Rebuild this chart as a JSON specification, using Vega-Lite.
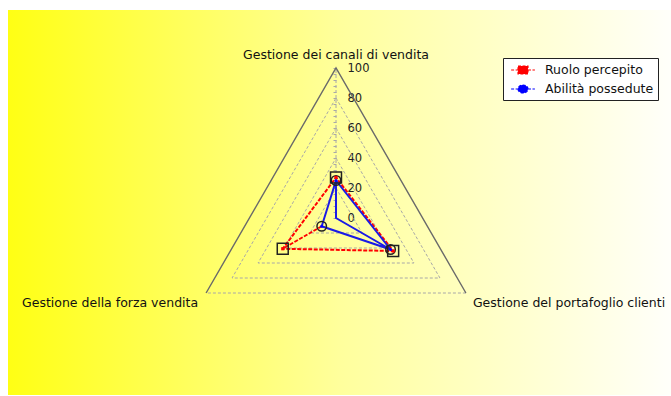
{
  "$schema": "https://vega.github.io/schema/vega-lite/v6.json",
  "width": 663,
  "height": 385,
  "padding": {"left": 8, "top": 10, "right": 0, "bottom": 1},
  "autosize": {"type": "none"},
  "background": "white",
  "config": {
    "view": {
      "stroke": null,
      "fill": {"gradient": "linear", "x1": 0, "y1": 0, "x2": 1, "y2": 0,
        "stops": [{"offset": 0, "color": "#ffff14"}, {"offset": 0.5, "color": "#ffff9c"}, {"offset": 1, "color": "#fffffa"}]}
    },
    "font": "DejaVu Sans",
    "legend": {
      "orient": "none", "legendX": 495, "legendY": 48, "title": null,
      "fillColor": "white", "strokeColor": "#222222", "padding": 4, "symbolOffset": 8, "rowPadding": 4,
      "labelFont": "DejaVu Sans", "labelFontSize": 12.5, "labelColor": "#111111", "labelOffset": 14,
      "symbolSize": 196, "symbolStrokeWidth": 1.2, "symbolOpacity": 1, "symbolDash": [3, 1.5]
    }
  },
  "datasets": {
    "grid": [
      {"g": "L20", "seq": 0, "k": 0, "value": 20, "style": "dash"},
      {"g": "L20", "seq": 1, "k": 1, "value": 20, "style": "dash"},
      {"g": "L20", "seq": 2, "k": 2, "value": 20, "style": "dash"},
      {"g": "L20", "seq": 3, "k": 0, "value": 20, "style": "dash"},
      {"g": "L40", "seq": 0, "k": 0, "value": 40, "style": "dash"},
      {"g": "L40", "seq": 1, "k": 1, "value": 40, "style": "dash"},
      {"g": "L40", "seq": 2, "k": 2, "value": 40, "style": "dash"},
      {"g": "L40", "seq": 3, "k": 0, "value": 40, "style": "dash"},
      {"g": "L60", "seq": 0, "k": 0, "value": 60, "style": "dash"},
      {"g": "L60", "seq": 1, "k": 1, "value": 60, "style": "dash"},
      {"g": "L60", "seq": 2, "k": 2, "value": 60, "style": "dash"},
      {"g": "L60", "seq": 3, "k": 0, "value": 60, "style": "dash"},
      {"g": "L80", "seq": 0, "k": 0, "value": 80, "style": "dash"},
      {"g": "L80", "seq": 1, "k": 1, "value": 80, "style": "dash"},
      {"g": "L80", "seq": 2, "k": 2, "value": 80, "style": "dash"},
      {"g": "L80", "seq": 3, "k": 0, "value": 80, "style": "dash"},
      {"g": "bottom", "seq": 0, "k": 1, "value": 100, "style": "dash"},
      {"g": "bottom", "seq": 1, "k": 2, "value": 100, "style": "dash"},
      {"g": "axis", "seq": 0, "k": 0, "value": 0, "style": "dash"},
      {"g": "axis", "seq": 1, "k": 0, "value": 100, "style": "dash"},
      {"g": "sides", "seq": 0, "k": 2, "value": 100, "style": "solid"},
      {"g": "sides", "seq": 1, "k": 0, "value": 100, "style": "solid"},
      {"g": "sides", "seq": 2, "k": 1, "value": 100, "style": "solid"}
    ],
    "paths": [
      {"series": "Ruolo percepito", "seq": 0, "k": 2, "value": 11},
      {"series": "Ruolo percepito", "seq": 1, "k": 2, "value": 41},
      {"series": "Ruolo percepito", "seq": 2, "k": 0, "value": 27},
      {"series": "Ruolo percepito", "seq": 3, "k": 1, "value": 44},
      {"series": "Ruolo percepito", "seq": 4, "k": 2, "value": 41},
      {"series": "Abilità possedute", "seq": 0, "k": 1, "value": 42},
      {"series": "Abilità possedute", "seq": 1, "k": 2, "value": 11},
      {"series": "Abilità possedute", "seq": 2, "k": 0, "value": 25},
      {"series": "Abilità possedute", "seq": 3, "k": 0, "value": 0},
      {"series": "Abilità possedute", "seq": 4, "k": 1, "value": 42},
      {"series": "Abilità possedute", "seq": 5, "k": 0, "value": 25}
    ],
    "points": [
      {"series": "Ruolo percepito", "k": 0, "value": 27},
      {"series": "Ruolo percepito", "k": 1, "value": 44},
      {"series": "Ruolo percepito", "k": 2, "value": 41},
      {"series": "Abilità possedute", "k": 0, "value": 25},
      {"series": "Abilità possedute", "k": 1, "value": 42},
      {"series": "Abilità possedute", "k": 2, "value": 11}
    ],
    "axes": [
      {"axis": "Gestione dei canali di vendita", "k": 0, "value": 100},
      {"axis": "Gestione del portafoglio clienti", "k": 1, "value": 100},
      {"axis": "Gestione della forza vendita", "k": 2, "value": 100}
    ]
  },
  "encoding": {
    "x": {"field": "px", "type": "quantitative", "scale": {"domain": [-218.667, 223.333], "nice": false, "zero": false}, "axis": null},
    "y": {"field": "py", "type": "quantitative", "scale": {"domain": [-118, 138.667], "nice": false, "zero": false},
      "axis": {"orient": "right", "offset": -335, "title": null,
        "values": [0,4,8,12,16,20,24,28,32,36,40,44,48,52,56,60,64,68,72,76,80,84,88,92,96,100],
        "labelExpr": "datum.value % 20 === 0 ? datum.label : ''",
        "domain": false, "grid": false, "tickSize": -3, "tickColor": "#a8a8a8",
        "labelFont": "DejaVu Sans", "labelFontSize": 11.5, "labelColor": "#222222", "labelPadding": 14,
        "labelOverlap": false, "labelBound": false, "labelFlush": false}}
  },
  "layer": [
    {
      "data": {"name": "grid"},
      "transform": [
        {"filter": "datum.style === 'dash'"},
        {"calculate": "PI/2 - datum.k*2*PI/3", "as": "th"},
        {"calculate": "datum.value*cos(datum.th)", "as": "px"},
        {"calculate": "datum.value*sin(datum.th)", "as": "py"}
      ],
      "mark": {"type": "line", "stroke": "#a8a8a8", "strokeWidth": 1, "strokeDash": [3, 2]},
      "encoding": {"detail": {"field": "g"}, "order": {"field": "seq", "type": "quantitative"}}
    },
    {
      "data": {"name": "grid"},
      "transform": [
        {"filter": "datum.style === 'solid'"},
        {"calculate": "PI/2 - datum.k*2*PI/3", "as": "th"},
        {"calculate": "datum.value*cos(datum.th)", "as": "px"},
        {"calculate": "datum.value*sin(datum.th)", "as": "py"}
      ],
      "mark": {"type": "line", "stroke": "#6a6a6a", "strokeWidth": 1.4},
      "encoding": {"detail": {"field": "g"}, "order": {"field": "seq", "type": "quantitative"}}
    },
    {
      "data": {"name": "paths"},
      "transform": [
        {"filter": "datum.series === 'Ruolo percepito'"},
        {"calculate": "PI/2 - datum.k*2*PI/3", "as": "th"},
        {"calculate": "datum.value*cos(datum.th)", "as": "px"},
        {"calculate": "datum.value*sin(datum.th)", "as": "py"}
      ],
      "mark": {"type": "line", "stroke": "#ff0000", "strokeWidth": 2, "strokeDash": [4, 1.5]},
      "encoding": {"order": {"field": "seq", "type": "quantitative"}}
    },
    {
      "data": {"name": "paths"},
      "transform": [
        {"filter": "datum.series === 'Abilità possedute'"},
        {"calculate": "PI/2 - datum.k*2*PI/3", "as": "th"},
        {"calculate": "datum.value*cos(datum.th)", "as": "px"},
        {"calculate": "datum.value*sin(datum.th)", "as": "py"}
      ],
      "mark": {"type": "line", "stroke": "#1a1ae6", "strokeWidth": 2},
      "encoding": {"order": {"field": "seq", "type": "quantitative"}}
    },
    {
      "data": {"name": "points"},
      "transform": [
        {"filter": "datum.series === 'Abilità possedute'"},
        {"calculate": "PI/2 - datum.k*2*PI/3", "as": "th"},
        {"calculate": "datum.value*cos(datum.th)", "as": "px"},
        {"calculate": "datum.value*sin(datum.th)", "as": "py"}
      ],
      "mark": {"type": "point", "shape": "circle", "filled": false, "stroke": "#222222", "strokeWidth": 1.5, "size": 90, "opacity": 1}
    },
    {
      "data": {"name": "points"},
      "transform": [
        {"filter": "datum.series === 'Ruolo percepito'"},
        {"calculate": "PI/2 - datum.k*2*PI/3", "as": "th"},
        {"calculate": "datum.value*cos(datum.th)", "as": "px"},
        {"calculate": "datum.value*sin(datum.th)", "as": "py"}
      ],
      "mark": {"type": "point", "shape": "square", "filled": false, "stroke": "#222222", "strokeWidth": 1.5, "size": 120, "opacity": 1}
    },
    {
      "data": {"name": "points"},
      "transform": [
        {"filter": "datum.series === 'Ruolo percepito'"},
        {"calculate": "PI/2 - datum.k*2*PI/3", "as": "th"},
        {"calculate": "datum.value*cos(datum.th)", "as": "px"},
        {"calculate": "datum.value*sin(datum.th)", "as": "py"}
      ],
      "mark": {"type": "point", "shape": "square", "filled": true, "color": "#ff0000", "size": 10, "opacity": 1}
    },
    {
      "data": {"name": "points"},
      "transform": [
        {"filter": "datum.series === 'Abilità possedute'"},
        {"calculate": "PI/2 - datum.k*2*PI/3", "as": "th"},
        {"calculate": "datum.value*cos(datum.th)", "as": "px"},
        {"calculate": "datum.value*sin(datum.th)", "as": "py"}
      ],
      "mark": {"type": "point", "shape": "circle", "filled": true, "color": "#0000ff", "size": 10, "opacity": 1}
    },
    {
      "data": {"name": "points"},
      "transform": [
        {"calculate": "PI/2 - datum.k*2*PI/3", "as": "th"},
        {"calculate": "datum.value*cos(datum.th)", "as": "px"},
        {"calculate": "datum.value*sin(datum.th)", "as": "py"}
      ],
      "mark": {"type": "point", "filled": true, "opacity": 0, "size": 10},
      "encoding": {
        "fill": {"field": "series", "type": "nominal",
          "scale": {"domain": ["Ruolo percepito", "Abilità possedute"], "range": ["#ff0000", "#0000ff"]},
          "legend": {"title": null}},
        "stroke": {"field": "series", "type": "nominal",
          "scale": {"domain": ["Ruolo percepito", "Abilità possedute"], "range": ["#ff0000", "#0000ff"]},
          "legend": {"title": null}},
        "shape": {"field": "series", "type": "nominal",
          "scale": {"domain": ["Ruolo percepito", "Abilità possedute"],
            "range": ["M-1.7,0H-0.71M0.71,0H1.7M-0.71,-0.57H0.71V0.57H-0.71Z", "M-1.7,0H-0.71M0.71,0H1.7M-0.71,0A0.71,0.57 0 1,0 0.71,0A0.71,0.57 0 1,0 -0.71,0Z"]},
          "legend": {"title": null}}
      }
    },
    {
      "data": {"name": "axes"},
      "transform": [
        {"filter": "datum.k === 0"},
        {"calculate": "PI/2 - datum.k*2*PI/3", "as": "th"},
        {"calculate": "datum.value*cos(datum.th)", "as": "px"},
        {"calculate": "datum.value*sin(datum.th)", "as": "py"}
      ],
      "mark": {"type": "text", "align": "center", "baseline": "middle", "dy": -13, "font": "DejaVu Sans", "fontSize": 12.5, "color": "#111111"},
      "encoding": {"text": {"field": "axis"}}
    },
    {
      "data": {"name": "axes"},
      "transform": [
        {"filter": "datum.k === 1"},
        {"calculate": "PI/2 - datum.k*2*PI/3", "as": "th"},
        {"calculate": "datum.value*cos(datum.th)", "as": "px"},
        {"calculate": "datum.value*sin(datum.th)", "as": "py"}
      ],
      "mark": {"type": "text", "align": "left", "baseline": "middle", "dx": 7, "dy": 10, "font": "DejaVu Sans", "fontSize": 12.5, "color": "#111111"},
      "encoding": {"text": {"field": "axis"}}
    },
    {
      "data": {"name": "axes"},
      "transform": [
        {"filter": "datum.k === 2"},
        {"calculate": "PI/2 - datum.k*2*PI/3", "as": "th"},
        {"calculate": "datum.value*cos(datum.th)", "as": "px"},
        {"calculate": "datum.value*sin(datum.th)", "as": "py"}
      ],
      "mark": {"type": "text", "align": "right", "baseline": "middle", "dx": -8, "dy": 10, "font": "DejaVu Sans", "fontSize": 12.5, "color": "#111111"},
      "encoding": {"text": {"field": "axis"}}
    }
  ]
}
